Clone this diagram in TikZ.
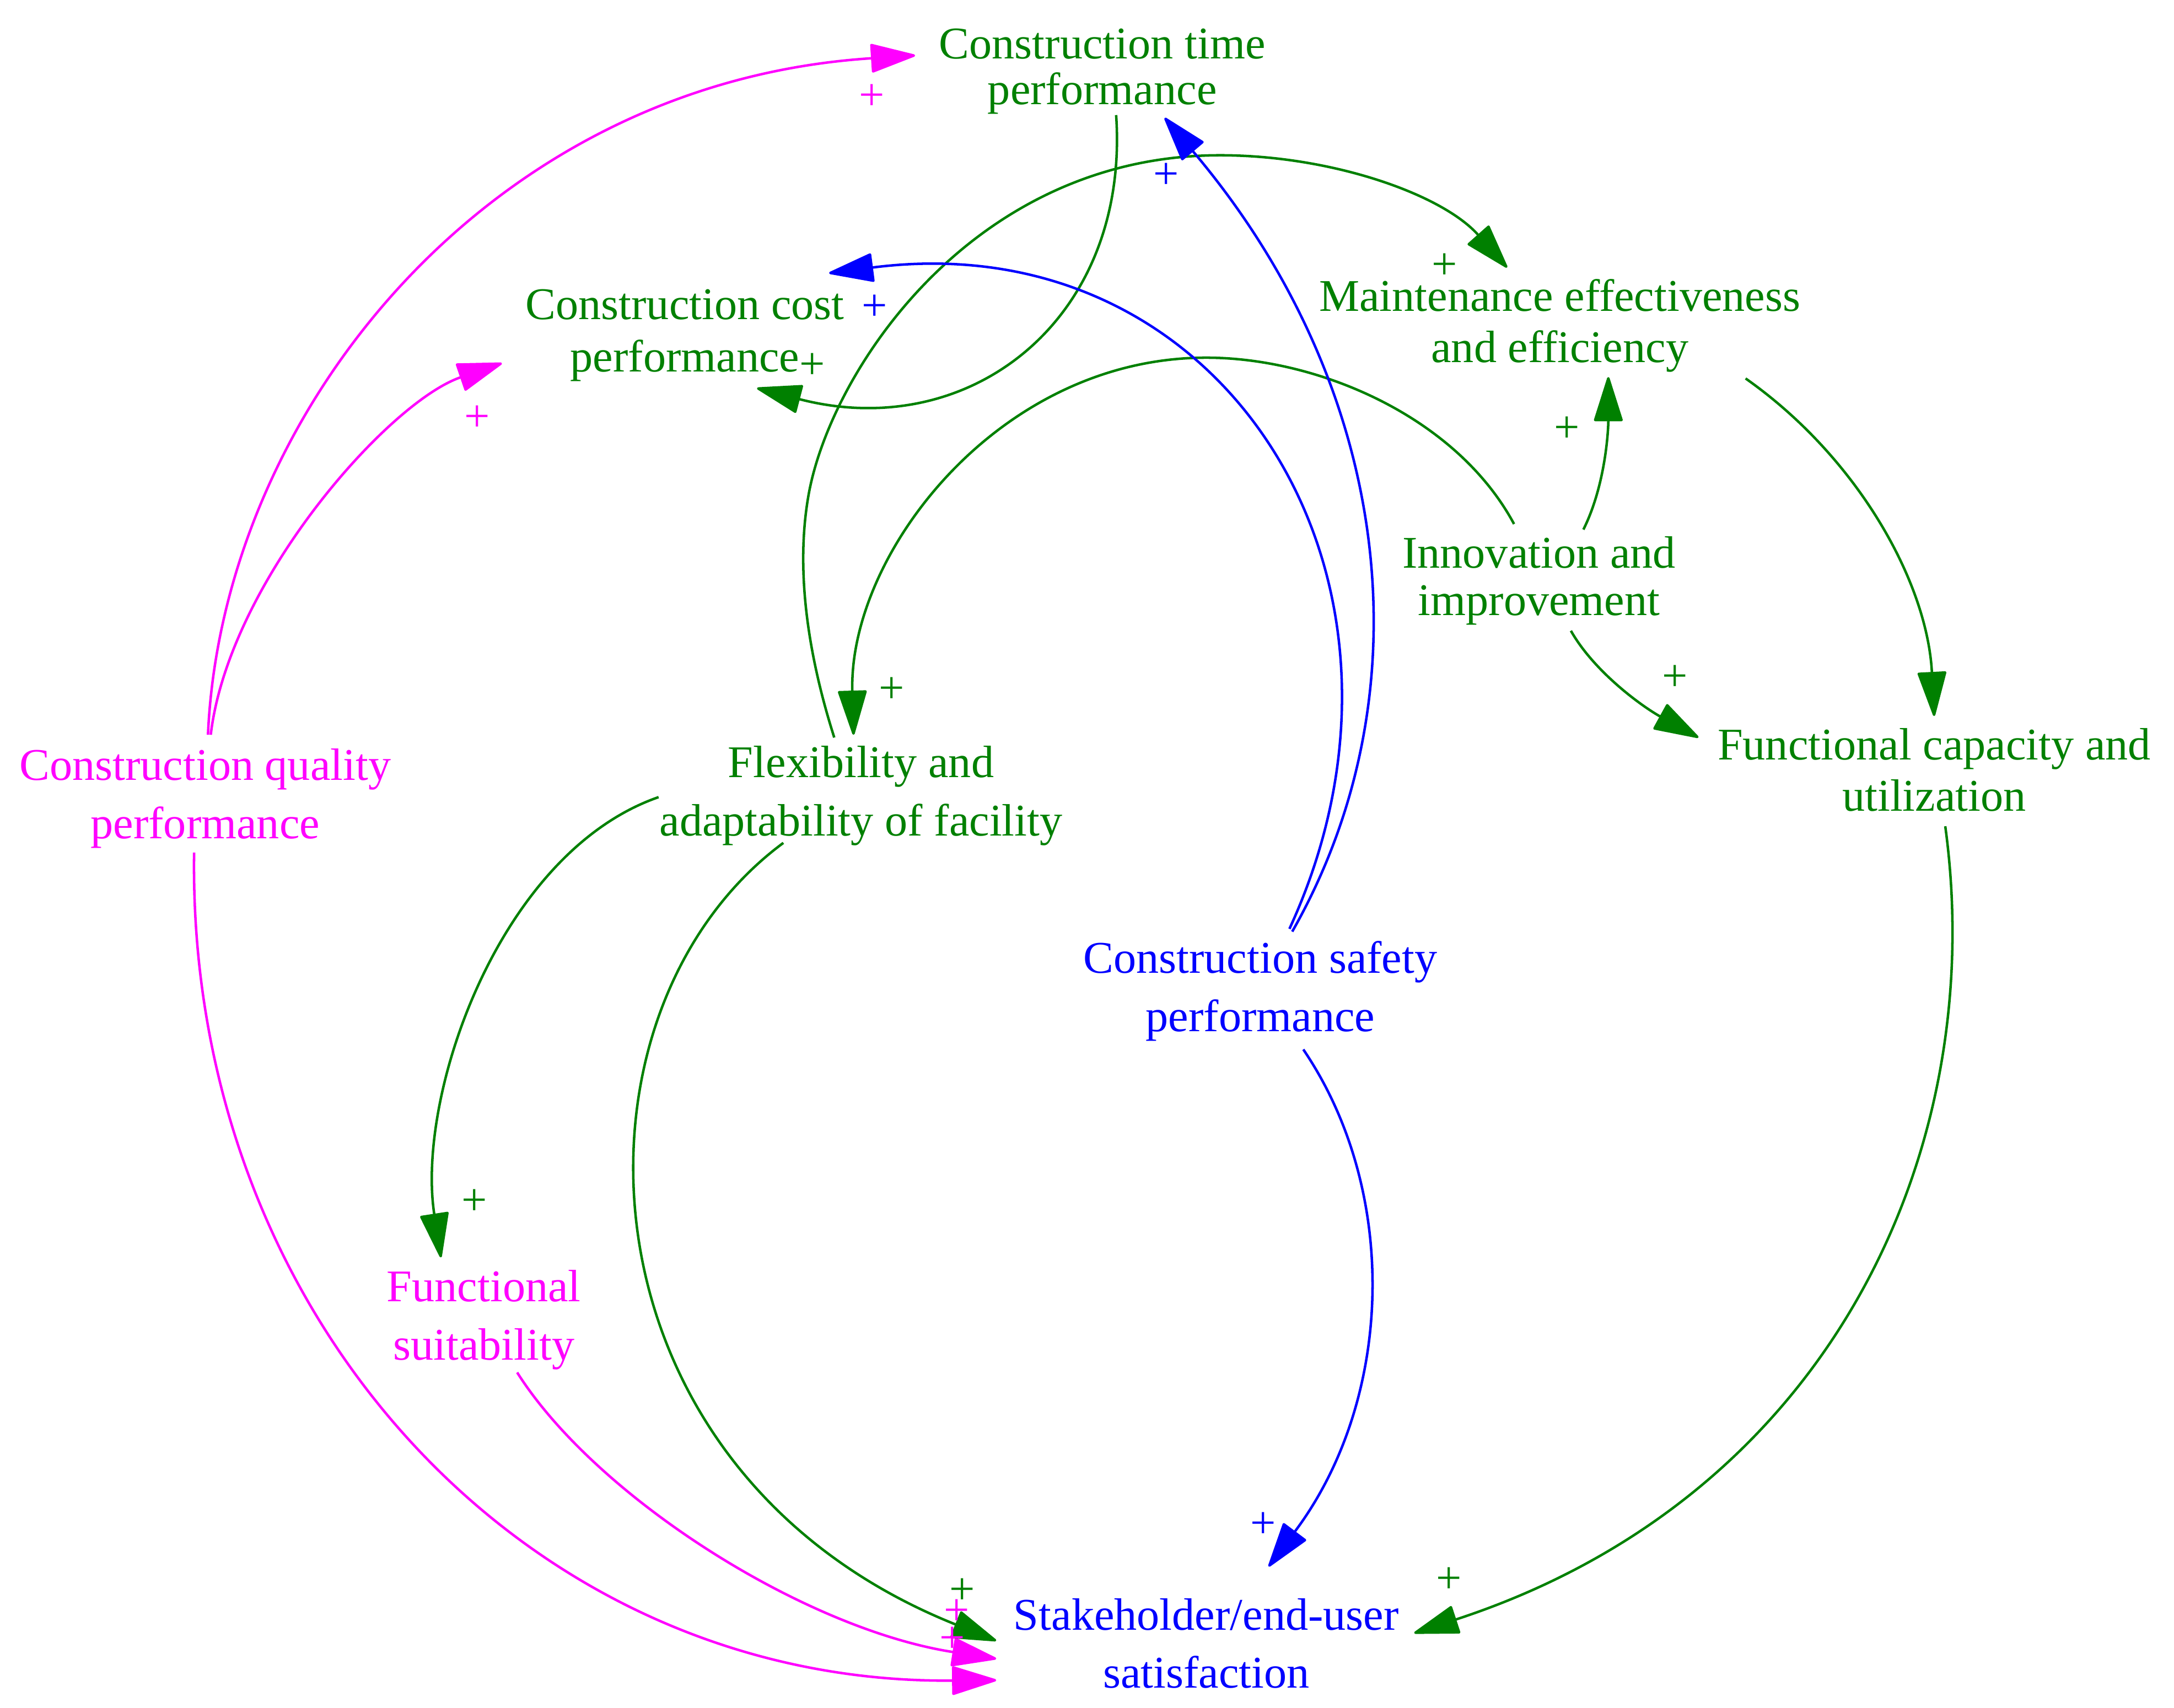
\documentclass[tikz,border=0pt]{standalone}
\usepackage{fontspec}
\setmainfont{Liberation Serif}
\usetikzlibrary{arrows.meta}
\definecolor{cgreen}{RGB}{0,128,0}
\definecolor{cmag}{RGB}{255,0,255}
\definecolor{cblue}{RGB}{0,0,255}
\begin{document}
\begin{tikzpicture}[x=1pt,y=-1pt,
  lbl/.style={align=center,inner sep=0pt,font=\fontsize{32.7}{#1}\selectfont},
  lbl/.default=42,
  pl/.style={inner sep=0pt,font=\fontsize{32.7}{40}\selectfont},
  lnk/.style={line width=1.8pt,-{Triangle[length=34pt,width=21pt,round]}},
]
\useasboundingbox (0,0) rectangle (1568,1232);

% nodes
\node[lbl=33,text=cgreen] (time)  at (795,51.5)   {Construction time\\performance};
\node[lbl=38,text=cgreen] (cost)  at (494,242)    {Construction cost\\performance};
\node[lbl=37,text=cgreen] (maint) at (1125,235)   {Maintenance effectiveness\\and efficiency};
\node[lbl=34,text=cgreen] (innov) at (1110,419)   {Innovation and\\improvement};
\node[lbl=42,text=cgreen] (flex)  at (621,574)    {Flexibility and\\adaptability of facility};
\node[lbl=37,text=cgreen] (func)  at (1395,555.5) {Functional capacity and\\utilization};
\node[lbl=42,text=cmag]   (qual)  at (148,576)    {Construction quality\\performance};
\node[lbl=42,text=cblue]  (safe)  at (909,715)    {Construction safety\\performance};
\node[lbl=42,text=cmag]   (suit)  at (349,952)    {Functional\\suitability};
\node[lbl=42,text=cblue]  (stake) at (870,1185.5) {Stakeholder/end-user\\satisfaction};

% magenta links
\draw[lnk,cmag] ([shift={(2,-46)}]qual.center) .. controls (160,300) and (350,60) .. ([shift={(-135,-11.5)}]time.center);
\draw[lnk,cmag] ([shift={(4,-46)}]qual.center) .. controls (165,420) and (280,290) .. ([shift={(-132,20)}]cost.center);
\draw[lnk,cmag] ([shift={(-8,39)}]qual.center) .. controls (135,950) and (380,1215) .. ([shift={(-151.5,26.5)}]stake.center);
\draw[lnk,cmag] ([shift={(24,38)}]suit.center) .. controls (430,1080) and (580,1175) .. ([shift={(-151.5,11)}]stake.center);

% green links
\draw[lnk,cgreen] ([shift={(10,31.5)}]time.center) .. controls (815,230) and (700,320) .. ([shift={(52,38)}]cost.center);
\draw[lnk,cgreen] ([shift={(-19.3,-42)}]flex.center) .. controls (582,470) and (574,410) .. (583,358)
   .. controls (598,270) and (700,112) .. (880,112) .. controls (960,112) and (1040,140) .. ([shift={(-38,-42)}]maint.center);
\draw[lnk,cgreen] ([shift={(-18,-41)}]innov.center) .. controls (1050,300) and (950,258) .. (870,258)
   .. controls (720,258) and (612,400) .. ([shift={(-5.4,-44)}]flex.center);
\draw[lnk,cgreen] ([shift={(32,-37)}]innov.center) .. controls (1158,350) and (1160,310) .. ([shift={(35,37)}]maint.center);
\draw[lnk,cgreen] ([shift={(23,36)}]innov.center) .. controls (1150,485) and (1185,510) .. ([shift={(-170,-23.5)}]func.center);
\draw[lnk,cgreen] ([shift={(134,38)}]maint.center) .. controls (1340,330) and (1390,420) .. ([shift={(0,-39)}]func.center);
\draw[lnk,cgreen] ([shift={(-146,1)}]flex.center) .. controls (360,615) and (300,790) .. ([shift={(-31,-45)}]suit.center);
\draw[lnk,cgreen] ([shift={(-56,34)}]flex.center) .. controls (400,730) and (410,1060) .. ([shift={(-151.5,-2)}]stake.center);
\draw[lnk,cgreen] ([shift={(8,40.5)}]func.center) .. controls (1435,830) and (1320,1080) .. ([shift={(150,-7.5)}]stake.center);

% blue links
\draw[lnk,cblue] ([shift={(23,-43)}]safe.center) .. controls (1030,500) and (1005,280) .. ([shift={(45,33.5)}]time.center);
\draw[lnk,cblue] ([shift={(21,-45)}]safe.center) .. controls (1045,420) and (885,160) .. ([shift={(104,-45)}]cost.center);
\draw[lnk,cblue] ([shift={(31,42)}]safe.center) .. controls (1010,860) and (1005,1010) .. ([shift={(45,-55.5)}]stake.center);

% polarity signs
\node[pl,text=cmag] (pm1) at (629,70) {+};
\node[pl,text=cmag] (pm2) at (344,302) {+};
\node[pl,text=cmag] (pm3) at (690,1163) {+};
\node[pl,text=cmag] (pm4) at (687,1183) {+};
\node[pl,text=cgreen] (pg1) at (586,264) {+};
\node[pl,text=cgreen] (pg2) at (1042,192) {+};
\node[pl,text=cgreen] (pg3) at (643,498) {+};
\node[pl,text=cgreen] (pg4) at (1130,310) {+};
\node[pl,text=cgreen] (pg5) at (1208,489) {+};
\node[pl,text=cgreen] (pg6) at (342,867) {+};
\node[pl,text=cgreen] (pg7) at (694,1148) {+};
\node[pl,text=cgreen] (pg8) at (1045,1140) {+};
\node[pl,text=cblue] (pb1) at (841,127) {+};
\node[pl,text=cblue] (pb2) at (631,222) {+};
\node[pl,text=cblue] (pb3) at (911,1100) {+};
\end{tikzpicture}
\end{document}
